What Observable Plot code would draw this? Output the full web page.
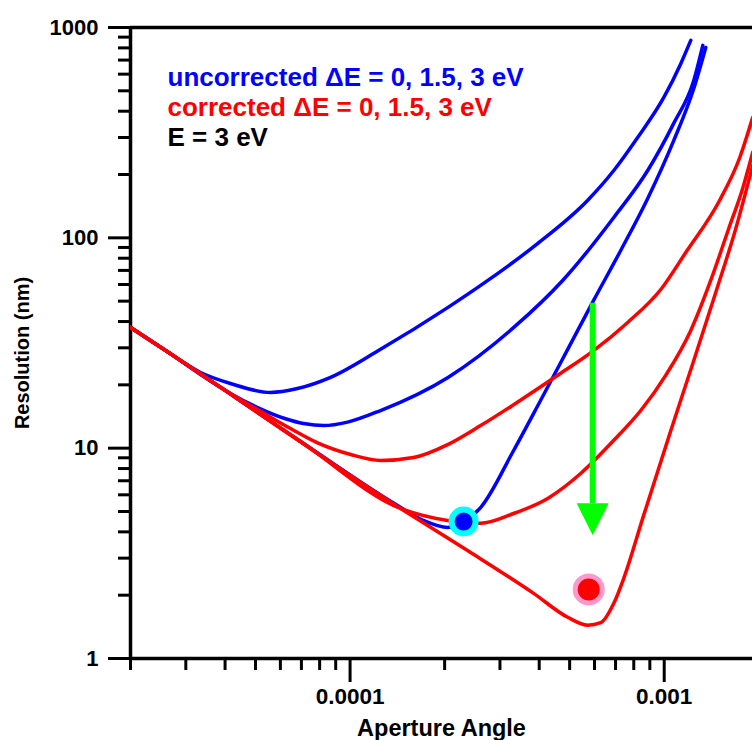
<!DOCTYPE html>
<html><head><meta charset="utf-8">
<script src="https://cdn.jsdelivr.net/npm/d3@7"></script>
<script src="https://cdn.jsdelivr.net/npm/@observablehq/plot@0.6"></script>
<style>
html,body{margin:0;padding:0;background:#fff;}
</style>
</head><body><div id="chart"></div>
<script>
// ---- axes ----
const xDomain = [2e-5, 1.91e-3];
const yDomain = [1, 1000];
const xMajorTicks = [1e-4, 1e-3];
const xTickLabels = ["0.0001", "0.001"];
const xMinorTicks = [2e-5, 3e-5, 4e-5, 5e-5, 6e-5, 7e-5, 8e-5, 9e-5, 2e-4, 3e-4, 4e-4, 5e-4, 6e-4, 7e-4, 8e-4, 9e-4];
const yMajorTicks = [1, 10, 100, 1000];
const yTickLabels = ["1", "10", "100", "1000"];
const yMinorTicks = [2, 3, 4, 5, 6, 7, 8, 9, 20, 30, 40, 50, 60, 70, 80, 90, 200, 300, 400, 500, 600, 700, 800, 900];
const xTitle = "Aperture Angle";
const yTitle = "Resolution (nm)";
const legendLabels = ["uncorrected \u0394E = 0, 1.5, 3 eV", "corrected \u0394E = 0, 1.5, 3 eV", "E = 3 eV"];

// ---- series: [aperture angle (rad), resolution (nm)] ----
const uncorrected3 = [[2.0e-5,37.5],[2.59e-5,29.1],[3.34e-5,22.9],[4.16e-5,20.3],[5.58e-5,18.4],[6.80e-5,19.2],[8.67e-5,21.7],[1.25e-4,29.5],[2.05e-4,46.7],[2.66e-4,60.7],[3.96e-4,94.1],[5.71e-4,151],[6.91e-4,209],[8.23e-4,300],[9.97e-4,465],[1.13e-3,675],[1.215e-3,868]];
const uncorrected15 = [[2.0e-5,37.5],[2.59e-5,29.1],[3.34e-5,22.4],[4.16e-5,18.2],[5.08e-5,15.6],[6.23e-5,13.8],[7.11e-5,13.1],[8.23e-5,12.8],[9.82e-5,13.3],[1.25e-4,15.1],[2.05e-4,21.7],[3.32e-4,37.5],[4.75e-4,62.7],[6.91e-4,125],[8.86e-4,209],[1.072e-3,350],[1.242e-3,560],[1.327e-3,822]];
const uncorrected0 = [[2.0e-5,37.5],[2.59e-5,29.1],[6.96e-5,10.76],[1.417e-4,5.34],[1.714e-4,4.53],[2.045e-4,4.20],[2.298e-4,4.48],[2.603e-4,5.22],[3.316e-4,9.75],[4.043e-4,16.9],[4.929e-4,29.5],[5.96e-4,50.4],[7.27e-4,87.1],[8.86e-4,154],[1.072e-3,290],[1.242e-3,513],[1.356e-3,804]];
const corrected3 = [[2.0e-5,37.5],[2.59e-5,29.1],[4.16e-5,18.2],[5.38e-5,14.5],[6.46e-5,12.4],[7.88e-5,10.6],[1.004e-4,9.33],[1.251e-4,8.74],[1.593e-4,9.03],[2.045e-4,10.4],[2.603e-4,12.8],[3.316e-4,16.1],[4.682e-4,22.7],[5.96e-4,29.1],[7.65e-4,39.6],[9.75e-4,56.8],[1.171e-3,85.2],[1.502e-3,151],[1.74e-3,241],[1.913e-3,374]];
const corrected15 = [[2.0e-5,37.5],[2.59e-5,29.1],[6.96e-5,10.76],[1.448e-4,5.17],[2.045e-4,4.53],[2.603e-4,4.39],[3.316e-4,4.89],[4.256e-4,5.77],[5.42e-4,7.58],[6.91e-4,10.9],[8.42e-4,15.1],[1.011e-3,22.2],[1.215e-3,36.3],[1.406e-3,62.7],[1.605e-3,110.8],[1.778e-3,172],[1.913e-3,255]];
const corrected0 = [[2.0e-5,37.5],[2.59e-5,29.1],[1.448e-4,5.17],[2.366e-4,3.26],[3.84e-4,2.04],[4.929e-4,1.57],[5.71e-4,1.44],[6.28e-4,1.48],[6.91e-4,1.83],[7.43e-4,2.40],[8.6e-4,4.79],[1.049e-3,12.1],[1.242e-3,26.1],[1.459e-3,55.0],[1.69e-3,110.8],[1.913e-3,221]];

// ---- markers ----
const uncorrectedOptimum = [[2.298e-4, 4.48]];
const correctedOptimum = [[5.75e-4, 2.13]];
const arrowX = [5.92e-4];
const arrowTop = [48.8];
const arrowHeadBase = [5.46];
const arrowTip = [3.85];

const arrowData = arrowX.map((x, i) => ({x, top: arrowTop[i], base: arrowHeadBase[i], tip: arrowTip[i]}));

const downTriangle = {
  draw(context, size) {
    const r = Math.sqrt(size / Math.PI);
    context.moveTo(-r, -2 * r);
    context.lineTo(r, -2 * r);
    context.lineTo(0, 0);
    context.closePath();
  }
};

const fontFamily = "Arial, 'Liberation Sans', sans-serif";
const BLUE = "#0000ff", RED = "#ff0000";
const lineOpts = (stroke) => ({x: d => d[0], y: d => d[1], stroke, strokeWidth: 3.5, curve: "monotone-x", clip: true, strokeLinecap: "round", strokeLinejoin: "round"});

const chart = Plot.plot({
  width: 752,
  height: 740,
  marginLeft: 130,
  marginRight: 0,
  marginTop: 27,
  marginBottom: 82,
  style: {fontFamily, fontWeight: "bold", background: "white", color: "black", overflow: "visible"},
  x: {type: "log", domain: xDomain, label: null},
  y: {type: "log", domain: yDomain, label: null},
  marks: [
    Plot.axisY(yMinorTicks, {anchor: "left", tickSize: 12, tickFormat: () => "", strokeWidth: 3, stroke: "black"}),
    Plot.axisY(yMajorTicks, {anchor: "left", tickSize: 22, tickPadding: 10, tickFormat: d => yTickLabels[yMajorTicks.indexOf(d)], fontSize: 22, strokeWidth: 3, stroke: "black"}),
    Plot.axisX(xMinorTicks, {anchor: "bottom", tickSize: 12, tickFormat: () => "", strokeWidth: 3, stroke: "black"}),
    Plot.axisX(xMajorTicks, {anchor: "bottom", tickSize: 24, tickPadding: 6, tickFormat: d => xTickLabels[xMajorTicks.indexOf(d)], fontSize: 22.5, strokeWidth: 3, stroke: "black"}),
    Plot.ruleX([xDomain[0]], {strokeWidth: 3.5, stroke: "black"}),
    Plot.ruleY([yDomain[0]], {strokeWidth: 3.5, stroke: "black"}),
    Plot.ruleY([yDomain[1]], {strokeWidth: 3.5, stroke: "black"}),
    Plot.line(uncorrected3, lineOpts(BLUE)),
    Plot.line(uncorrected15, lineOpts(BLUE)),
    Plot.line(uncorrected0, lineOpts(BLUE)),
    Plot.line(corrected3, lineOpts(RED)),
    Plot.line(corrected15, lineOpts(RED)),
    Plot.line(corrected0, lineOpts(RED)),
    Plot.ruleX(arrowData, {x: "x", y1: "top", y2: "base", stroke: "#00ff00", strokeWidth: 6}),
    Plot.dot(arrowData, {x: "x", y: "tip", symbol: downTriangle, r: 16, fill: "#00ff00", stroke: "none"}),
    Plot.dot(uncorrectedOptimum, {x: d => d[0], y: d => d[1], r: 12, fill: BLUE, stroke: "#00ffff", strokeWidth: 6}),
    Plot.dot(correctedOptimum, {x: d => d[0], y: d => d[1], r: 13.5, fill: RED, stroke: "#ff99cc", strokeWidth: 5}),
    Plot.text([xTitle], {text: d => d, frameAnchor: "bottom", dy: 70, fontSize: 23.5, lineAnchor: "middle", fill: "black"}),
    Plot.text([yTitle], {text: d => d, frameAnchor: "left", textAnchor: "middle", dx: -108, dy: 10, rotate: -90, fontSize: 20, lineAnchor: "middle", fill: "black"}),
    Plot.text([legendLabels[0]], {text: d => d, frameAnchor: "top-left", dx: 37, dy: 50, textAnchor: "start", lineAnchor: "middle", fontSize: 26, fill: BLUE}),
    Plot.text([legendLabels[1]], {text: d => d, frameAnchor: "top-left", dx: 37, dy: 80, textAnchor: "start", lineAnchor: "middle", fontSize: 26, fill: RED}),
    Plot.text([legendLabels[2]], {text: d => d, frameAnchor: "top-left", dx: 37, dy: 110, textAnchor: "start", lineAnchor: "middle", fontSize: 26, fill: "black"})
  ]
});
document.getElementById("chart").appendChild(chart);
</script>
</body></html>
